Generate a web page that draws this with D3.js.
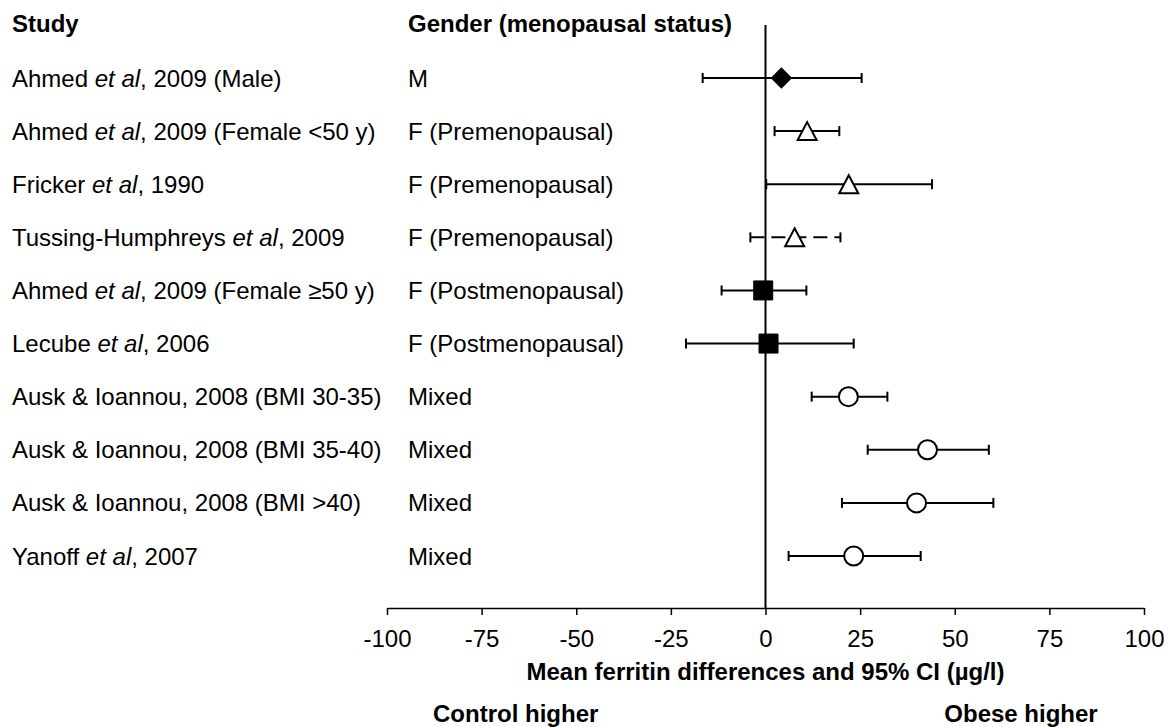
<!DOCTYPE html>
<html>
<head>
<meta charset="utf-8">
<script src="https://cdn.jsdelivr.net/npm/d3@7/dist/d3.min.js"></script>
<style>
  html, body { margin: 0; padding: 0; background: #fff; }
  svg { display: block; }
  text { font-family: "Liberation Sans", Arial, Helvetica, sans-serif; fill: #000; }
</style>
</head>
<body>
<svg id="chart" width="1175" height="727"></svg>
<script>
// ---- Data ----
const studies = [
  "Ahmed *et al*, 2009 (Male)",
  "Ahmed *et al*, 2009 (Female <50 y)",
  "Fricker *et al*, 1990",
  "Tussing-Humphreys *et al*, 2009",
  "Ahmed *et al*, 2009 (Female \u226550 y)",
  "Lecube *et al*, 2006",
  "Ausk & Ioannou, 2008 (BMI 30-35)",
  "Ausk & Ioannou, 2008 (BMI 35-40)",
  "Ausk & Ioannou, 2008 (BMI >40)",
  "Yanoff *et al*, 2007"
];
const genders = [
  "M",
  "F (Premenopausal)",
  "F (Premenopausal)",
  "F (Premenopausal)",
  "F (Postmenopausal)",
  "F (Postmenopausal)",
  "Mixed",
  "Mixed",
  "Mixed",
  "Mixed"
];
const means  = [4.2, 11.0, 22.0, 7.7, -0.6, 0.8, 21.9, 42.8, 39.9, 23.3];
const lowers = [-16.6, 2.4, 0.2, -4.0, -11.6, -21.0, 12.2, 27.0, 20.2, 6.1];
const uppers = [25.4, 19.5, 44.0, 19.8, 10.8, 23.3, 32.2, 59.0, 60.2, 41.0];
const markers = ["diamond", "triangle", "triangle", "triangle", "square", "square", "circle", "circle", "circle", "circle"];
const dashed = [false, false, false, true, false, false, false, false, false, false];
const tickValues = [-100, -75, -50, -25, 0, 25, 50, 75, 100];
const headers = ["Study", "Gender (menopausal status)"];
const axisTitle = "Mean ferritin differences and 95% CI (\u00b5g/l)";
const sideLabels = ["Control higher", "Obese higher"];

// ---- Layout ----
const svg = d3.select("#chart");
const FS = 24;
const axisY = 608;
const x = d3.scaleLinear().domain([-100, 100]).range([387, 1144]);
const idx = d3.range(studies.length);
const y = d3.scalePoint().domain(idx).range([78, 556]);

// headers
svg.append("text").attr("x", 12).attr("y", 32).attr("font-size", FS).attr("font-weight", "bold").text(headers[0]);
svg.append("text").attr("x", 408).attr("y", 32).attr("font-size", FS).attr("font-weight", "bold").text(headers[1]);

// study labels with italic parts
idx.forEach(i => {
  const t = svg.append("text").attr("x", 12).attr("y", y(i) + 8.5).attr("font-size", FS);
  studies[i].split("*").forEach((part, k) => {
    if (!part) return;
    const ts = t.append("tspan").text(part);
    if (k % 2 === 1) ts.attr("font-style", "italic");
  });
  svg.append("text").attr("x", 408).attr("y", y(i) + 8.5).attr("font-size", FS).text(genders[i]);
});

// vertical zero line
svg.append("line")
  .attr("x1", x(0)).attr("x2", x(0))
  .attr("y1", 25).attr("y2", axisY)
  .attr("stroke", "#000").attr("stroke-width", 2);

// axis
const axis = d3.axisBottom(x).tickValues(tickValues).tickSize(7).tickSizeOuter(0).tickPadding(15)
  .tickFormat(d => String(d));
const gAxis = svg.append("g").attr("transform", `translate(0,${axisY})`).call(axis);
gAxis.select(".domain").attr("stroke", "#000").attr("stroke-width", 1.5);
gAxis.selectAll(".tick line").attr("stroke", "#000").attr("stroke-width", 1.5);
gAxis.selectAll(".tick text")
  .attr("font-size", FS).attr("font-family", "Liberation Sans, Arial, sans-serif").attr("fill", "#000");

// axis title
svg.append("text").attr("x", x(0)).attr("y", 680).attr("text-anchor", "middle")
  .attr("font-size", FS).attr("font-weight", "bold").text(axisTitle);
svg.append("text").attr("x", x(-66)).attr("y", 722).attr("text-anchor", "middle")
  .attr("font-size", FS).attr("font-weight", "bold").text(sideLabels[0]);
svg.append("text").attr("x", x(67.5)).attr("y", 722).attr("text-anchor", "middle")
  .attr("font-size", FS).attr("font-weight", "bold").text(sideLabels[1]);

// error bars
const g = svg.append("g");
idx.forEach(i => {
  const yy = y(i);
  g.append("line")
    .attr("x1", x(lowers[i])).attr("x2", x(uppers[i]))
    .attr("y1", yy).attr("y2", yy)
    .attr("stroke", "#000").attr("stroke-width", 2)
    .attr("stroke-dasharray", dashed[i] ? "14,7" : null);
  [lowers[i], uppers[i]].forEach(v => {
    g.append("line")
      .attr("x1", x(v)).attr("x2", x(v))
      .attr("y1", yy - 5).attr("y2", yy + 5)
      .attr("stroke", "#000").attr("stroke-width", 2);
  });
});

// markers
idx.forEach(i => {
  const cx = x(means[i]), cy = y(i);
  const m = markers[i];
  if (m === "diamond") {
    g.append("path")
      .attr("d", d3.symbol(d3.symbolSquare, 200)())
      .attr("transform", `translate(${cx},${cy}) rotate(45)`)
      .attr("fill", "#000").attr("stroke", "#000").attr("stroke-width", 1);
  } else if (m === "square") {
    g.append("path")
      .attr("d", d3.symbol(d3.symbolSquare, 361)())
      .attr("transform", `translate(${cx},${cy})`)
      .attr("fill", "#000").attr("stroke", "#000").attr("stroke-width", 1);
  } else if (m === "triangle") {
    const w = 19, h = 18;
    const p = d3.path();
    p.moveTo(cx, cy - h / 2); p.lineTo(cx + w / 2, cy + h / 2); p.lineTo(cx - w / 2, cy + h / 2); p.closePath();
    g.append("path").attr("d", p.toString())
      .attr("fill", "#fff").attr("stroke", "#000").attr("stroke-width", 2).attr("stroke-linejoin", "miter");
  } else if (m === "circle") {
    g.append("circle").attr("cx", cx).attr("cy", cy).attr("r", 9.5)
      .attr("fill", "#fff").attr("stroke", "#000").attr("stroke-width", 2);
  }
});
</script>
</body>
</html>
